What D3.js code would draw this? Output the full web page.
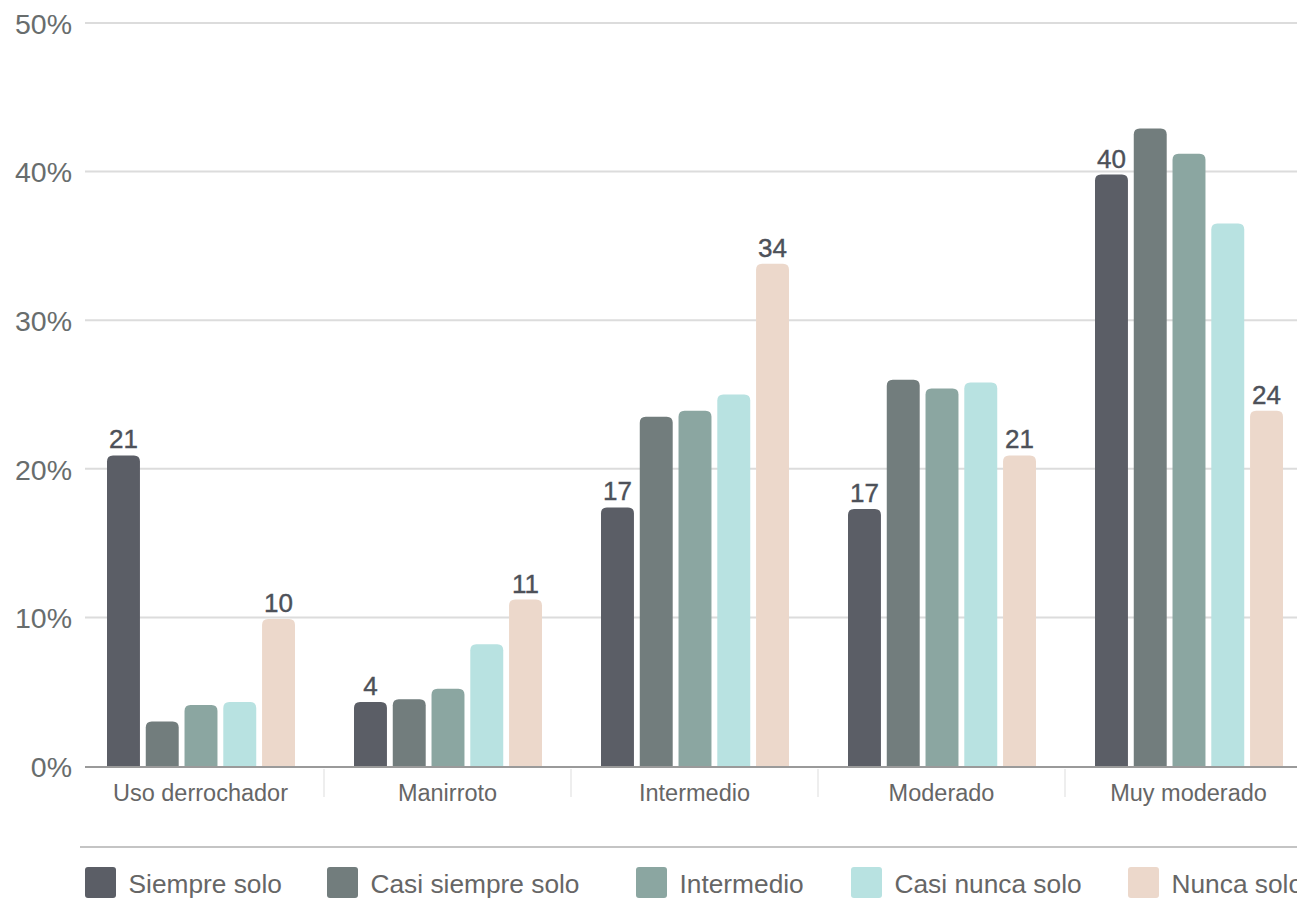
<!DOCTYPE html>
<html><head><meta charset="utf-8">
<script src="https://cdn.jsdelivr.net/npm/d3@7"></script>
<style>
html,body{margin:0;padding:0;background:#fff;overflow:hidden}
svg{display:block;font-family:"Helvetica Neue",Helvetica,Arial,"Liberation Sans",sans-serif}
</style></head>
<body><svg id="c" width="1297" height="912"></svg>
<script>
const categories = ["Uso derrochador","Manirroto","Intermedio","Moderado","Muy moderado"];
const seriesNames = ["Siempre solo","Casi siempre solo","Intermedio","Casi nunca solo","Nunca solo"];
const seriesColors = ["#5b5e66","#727d7d","#8ba6a1","#b8e2e1","#ecd8cb"];
const siempreSolo     = [20.9, 4.3, 17.4, 17.3, 39.8];
const casiSiempreSolo = [3.0, 4.5, 23.5, 26.0, 42.9];
const intermedio      = [4.1, 5.2, 23.9, 25.4, 41.2];
const casiNuncaSolo   = [4.3, 8.2, 25.0, 25.8, 36.5];
const nuncaSolo       = [9.9, 11.2, 33.8, 20.9, 23.9];
const yTicks = [0,10,20,30,40,50];
const labelledSeries = [0,4];

const values = [siempreSolo, casiSiempreSolo, intermedio, casiNuncaSolo, nuncaSolo];
const svg = d3.select("#c");
const W = 1297;
const y = d3.scaleLinear().domain([0,50]).range([766,23]);
const x0 = d3.scaleBand().domain(categories).range([77,1312]).paddingInner(0).paddingOuter(0);
const x1 = d3.scaleBand().domain(d3.range(5)).range([30,218]).paddingInner(0.15);

// grid
const grid = svg.append("g");
grid.selectAll("line").data(yTicks.filter(d=>d>0)).join("line")
  .attr("x1",85).attr("x2",W).attr("y1",d=>y(d)).attr("y2",d=>y(d))
  .attr("stroke","#dcdcdc").attr("stroke-width",2);
const yAxis = d3.axisLeft(y).tickValues(yTicks).tickFormat(d=>d+"%").tickSize(0).tickPadding(0);
const ya = svg.append("g").attr("transform","translate(72,0)").call(yAxis);
ya.select(".domain").remove();
ya.selectAll("text").attr("font-size",28.5).attr("fill","#686d6d").attr("font-family",null).attr("dy","0.36em");

// bars
function topRounded(x,yt,w,h,r){
  r=Math.min(r,h,w/2);
  return `M${x},${yt+h}V${yt+r}Q${x},${yt} ${x+r},${yt}H${x+w-r}Q${x+w},${yt} ${x+w},${yt+r}V${yt+h}Z`;
}
const groups = svg.append("g").selectAll("g").data(categories).join("g")
  .attr("transform",d=>`translate(${x0(d)},0)`);
groups.each(function(cat,ci){
  const g=d3.select(this);
  const data=values.map((s,si)=>({si,v:s[ci]}));
  g.selectAll("path").data(data).join("path")
    .attr("d",d=>topRounded(x1(d.si),y(d.v),x1.bandwidth(),y(0)-y(d.v),6))
    .attr("fill",d=>seriesColors[d.si]);
  g.selectAll("text").data(data.filter(d=>labelledSeries.includes(d.si))).join("text")
    .attr("x",d=>x1(d.si)+x1.bandwidth()/2).attr("y",d=>y(d.v)-7)
    .attr("text-anchor","middle").attr("font-size",26).attr("fill","#4d5159")
    .attr("stroke","#4d5159").attr("stroke-width",0.4)
    .text(d=>Math.round(d.v));
});

// x axis
svg.append("line").attr("x1",85).attr("x2",W).attr("y1",767).attr("y2",767)
  .attr("stroke","#9a9a9a").attr("stroke-width",2);
const xa = d3.axisBottom(x0).tickSize(0).tickPadding(0);
const xg = svg.append("g").attr("transform","translate(0,768)").call(xa);
xg.select(".domain").remove();
xg.selectAll("text").attr("font-size",23.5).attr("fill","#666").attr("font-family",null).attr("y",33).attr("dy",0);
svg.append("g").selectAll("line").data(categories.slice(1)).join("line")
  .attr("x1",d=>x0(d)).attr("x2",d=>x0(d)).attr("y1",769).attr("y2",797)
  .attr("stroke","#dddddd").attr("stroke-width",1);

// legend
svg.append("line").attr("x1",80).attr("x2",W).attr("y1",847).attr("y2",847)
  .attr("stroke","#c4c4c4").attr("stroke-width",2);
const legendItemX = [85, 327, 636, 851, 1128];
const leg = svg.append("g").selectAll("g").data(seriesNames).join("g")
  .attr("transform",(d,i)=>`translate(${legendItemX[i]},0)`);
leg.append("rect").attr("x",0).attr("y",867).attr("width",31).attr("height",31).attr("rx",3)
  .attr("fill",(d,i)=>seriesColors[i]);
leg.append("text").attr("x",43.5).attr("y",893).attr("font-size",26.3).attr("fill","#666")
  .text(d=>d);
</script></body></html>
